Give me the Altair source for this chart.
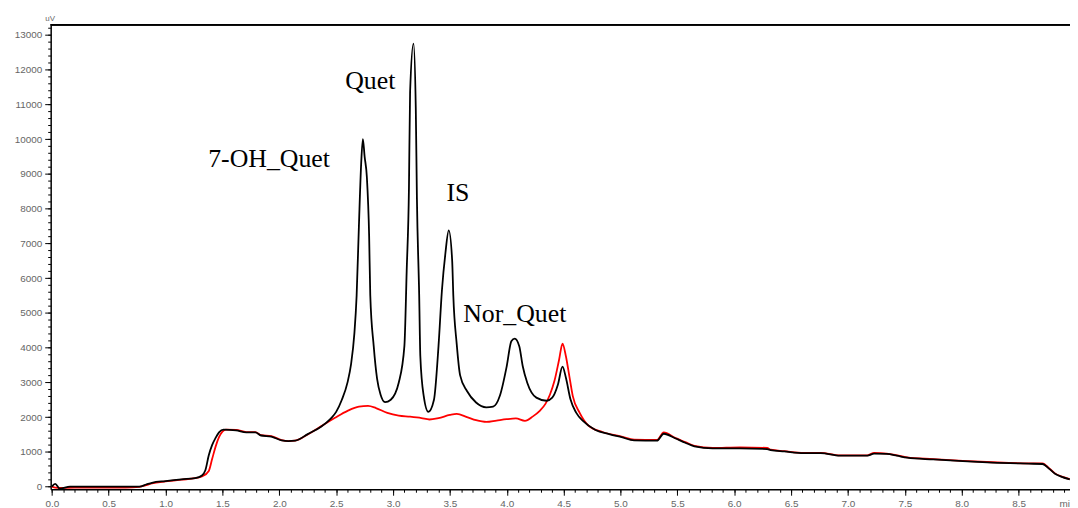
import altair as alt
import pandas as pd

# ---- data (time in min, signal in uV) ----
black_t = [0.00, 0.03, 0.07, 0.16, 0.40, 0.77, 0.83, 0.88, 1.00, 1.14, 1.26, 1.32, 1.35, 1.38, 1.41,
           1.44, 1.47, 1.51, 1.62, 1.71, 1.79, 1.84, 1.93, 2.02, 2.08, 2.14, 2.25, 2.37, 2.45, 2.50,
           2.55, 2.60, 2.63, 2.66, 2.68, 2.70, 2.72, 2.735, 2.75, 2.77, 2.79, 2.80, 2.83, 2.86,
           2.89, 2.93, 2.98, 3.05, 3.10, 3.12, 3.14, 3.15, 3.18, 3.20, 3.21, 3.23, 3.24, 3.27, 3.31,
           3.36, 3.40, 3.43, 3.46, 3.49, 3.52, 3.53, 3.56, 3.59, 3.65, 3.73, 3.82, 3.88, 3.94, 4.00,
           4.04, 4.07, 4.11, 4.14, 4.18, 4.26, 4.35, 4.40, 4.45, 4.49, 4.52, 4.56, 4.61, 4.67, 4.78,
           4.90, 5.01, 5.12, 5.32, 5.38, 5.48, 5.57, 5.65, 5.81, 6.05, 6.29, 6.32, 6.44, 6.61, 6.76,
           6.93, 7.17, 7.23, 7.34, 7.43, 7.52, 7.75, 8.01, 8.27, 8.59, 8.71, 8.77, 8.82, 8.88, 8.95]
black_v = [0, 80, -60, 0, 0, 0, 60, 110, 160, 210, 245, 320, 470, 900, 1200,
           1400, 1560, 1640, 1620, 1560, 1560, 1470, 1440, 1330, 1310, 1320, 1510, 1730, 1950, 2150,
           2500, 3000, 3500, 4400, 5500, 7500, 9300, 10000, 9500, 8900, 7200, 5500, 4050, 3100,
           2650, 2430, 2500, 2990, 4050, 6200, 8600, 11350, 12750, 10900, 8300, 5500, 3750, 2600, 2150,
           2500, 4050, 5650, 6700, 7370, 6500, 5500, 4100, 3200, 2750, 2420, 2280, 2300, 2620, 3470,
           4180, 4260, 4040, 3470, 2990, 2560, 2470, 2560, 2940, 3450, 3130, 2510, 2130, 1890, 1630,
           1510, 1420, 1330, 1320, 1520, 1390, 1260, 1160, 1100, 1100, 1080, 1050, 1010, 960, 960,
           890, 890, 950, 940, 890, 830, 780, 730, 690, 660, 650, 510, 370, 280, 210]

red_t = [0.00, 0.05, 0.20, 0.65, 0.77, 0.83, 0.88, 1.00, 1.14, 1.26, 1.32, 1.38, 1.41, 1.44, 1.47,
         1.50, 1.53, 1.62, 1.71, 1.79, 1.84, 1.93, 2.02, 2.08, 2.14, 2.25, 2.37, 2.49, 2.60, 2.70,
         2.78, 2.85, 2.95, 3.05, 3.15, 3.25, 3.32, 3.40, 3.50, 3.56, 3.65, 3.73, 3.82, 3.91, 4.00,
         4.08, 4.16, 4.23, 4.29, 4.34, 4.38, 4.42, 4.46, 4.49, 4.52, 4.55, 4.58, 4.64, 4.72, 4.84, 5.01,
         5.12, 5.32, 5.38, 5.48, 5.57, 5.65, 5.81, 6.05, 6.29, 6.32, 6.44, 6.61, 6.76, 6.93, 7.17,
         7.23, 7.34, 7.43, 7.52, 7.75, 8.01, 8.27, 8.59, 8.71, 8.77, 8.82, 8.88, 8.95]
red_v = [0, -40, -30, -30, -10, 40, 90, 150, 200, 240, 290, 450, 800, 1150, 1420,
         1580, 1640, 1630, 1570, 1570, 1480, 1450, 1340, 1310, 1320, 1500, 1740, 1980, 2180, 2300,
         2320, 2260, 2120, 2040, 2010, 1970, 1930, 1970, 2060, 2090, 2000, 1910, 1860, 1900, 1940,
         1960, 1890, 2020, 2180, 2380, 2650, 3050, 3650, 4110, 3750, 3180, 2610, 2130, 1750, 1570, 1440,
         1350, 1340, 1560, 1400, 1280, 1170, 1110, 1130, 1110, 1060, 1020, 970, 970, 900, 900,
         970, 950, 900, 840, 790, 740, 700, 670, 670, 520, 380, 285, 215]

peak_labels = ["7-OH_Quet", "Quet", "IS", "Nor_Quet"]
label_t = [1.91, 2.80, 3.57, 4.07]
label_v = [9430, 11660, 8460, 4970]

x_major = [i * 0.5 for i in range(0, 18)]
x_minor = [round(i * 0.1, 1) for i in range(0, 90)]
y_major = list(range(0, 13001, 1000))
y_minor = list(range(0, 13201, 200))

black = pd.DataFrame({"t": black_t, "v": black_v})
red = pd.DataFrame({"t": red_t, "v": red_v})
labels = pd.DataFrame({"t": label_t, "v": label_v, "label": peak_labels})

xscale = alt.Scale(domain=[-0.01, 8.952], nice=False, zero=False)
yscale = alt.Scale(domain=[-77, 13290], nice=False, zero=False)

common = dict(labelFontSize=10, labelColor="#666", labelFont="Liberation Sans", labelPadding=3,
              labelFlush=False, labelOverlap=False, domainColor="#000", domainWidth=1.5,
              tickColor="#000", tickWidth=1, grid=False)

x_major_axis = alt.Axis(
    orient="bottom", values=x_major, format=".1f", tickSize=6, **common,
    title="min", titleFontSize=10, titleFont="Liberation Sans", titleColor="#666", titleFontWeight="normal",
    titleX=1016, titleY=9, titleAlign="left", titleBaseline="top",
)
y_major_axis = alt.Axis(
    orient="left", values=y_major, format="d", tickSize=6, **common,
    title="uV", titleFontSize=8, titleFont="Liberation Sans", titleColor="#666", titleFontWeight="normal",
    titleAngle=0, titleX=-6, titleY=-2, titleAlign="left", titleBaseline="bottom",
)
x_minor_axis = alt.Axis(orient="bottom", values=x_minor, tickSize=3, labels=False, domain=False,
                        tickColor="#000", tickWidth=1, grid=False, title=None)
y_minor_axis = alt.Axis(orient="left", values=y_minor, tickSize=3, labels=False, domain=False,
                        tickColor="#000", tickWidth=1, grid=False, title=None)

red_line = alt.Chart(red).mark_line(color="#ff0000", strokeWidth=1.8, interpolate="monotone", clip=True).encode(
    x=alt.X("t:Q", scale=xscale, axis=x_minor_axis),
    y=alt.Y("v:Q", scale=yscale, axis=y_minor_axis),
)
black_line = alt.Chart(black).mark_line(color="#000000", strokeWidth=1.8, interpolate="monotone", clip=True).encode(
    x=alt.X("t:Q", scale=xscale, axis=x_major_axis),
    y=alt.Y("v:Q", scale=yscale, axis=y_major_axis),
)
text = alt.Chart(labels).mark_text(font="Liberation Serif", fontSize=26, color="#000", align="center", baseline="middle").encode(
    x=alt.X("t:Q", scale=xscale, axis=None),
    y=alt.Y("v:Q", scale=yscale, axis=None),
    text="label:N",
)
top_border = alt.Chart(labels).mark_rule(color="#000", strokeWidth=1.5).encode(y=alt.value(0))

chart = alt.layer(red_line, black_line, text, top_border).resolve_axis(
    x="independent", y="independent"
).properties(
    width=1027, height=468,
    autosize=alt.AutoSizeParams(type="none"),
    padding={"left": 43, "top": 15, "right": 0, "bottom": 17},
    background="white",
).configure_view(strokeWidth=0)

chart.save("out.html", embed_options={"renderer": "svg", "actions": False})
